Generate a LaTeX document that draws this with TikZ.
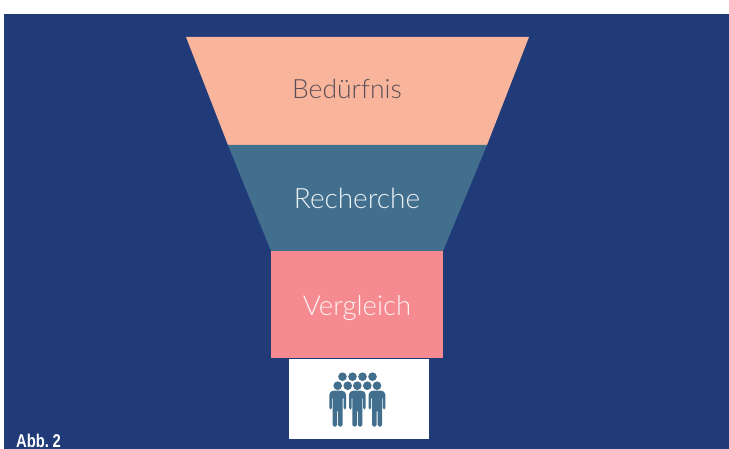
\documentclass[tikz,border=0pt]{standalone}
\usepackage{fontspec}
\setmainfont{Lato Light}[BoldFont=Lato]
\newfontfamily\abbfont[FakeStretch=0.8]{Liberation Sans Bold}
\usepackage{tikz}
\definecolor{navybg}{HTML}{203B78}
\definecolor{peach}{HTML}{F8B59C}
\definecolor{tealblue}{HTML}{426F8E}
\definecolor{rosered}{HTML}{F58A91}
\definecolor{darktext}{HTML}{5A5058}
\tikzset{
    dot/.style={fill=tealblue, circle, inner sep=0pt, minimum size=8.6pt},
    stage/.style={inner sep=0pt},
}

\begin{document}
\begin{tikzpicture}[x=1pt, y=-1pt]
        \useasboundingbox (0,0) rectangle (729,449);
        \clip (0,0) rectangle (729,449);
        \fill [navybg] (4,14) rectangle (729,449);
        % funnel
        \fill [peach] (186,37) -- (529,37) -- (487,145) -- (228,145) -- cycle;
        \fill [tealblue] (228,145) -- (487,145) -- (443,251) -- (271,251) -- cycle;
        \fill [rosered] (271,251) rectangle (443,358);
        \fill [white] (289,359) rectangle (429,439);
        \node [stage, text=darktext, font=\fontsize{26.5}{26.5}\selectfont] (need) at (347,89) {Bedürfnis};
        \node [stage, text=white!90!tealblue, font=\fontsize{28}{28}\selectfont] (research) at (357,198) {Recherche};
        \node [stage, text=white!90!rosered, font=\fontsize{27.5}{27.5}\selectfont] (compare) at (357,308) {Vergleich};
        % people
        \foreach \x in {342.5,352.5,362.5,372.5} {
          \node [dot] at (\x,376.7) {};
        }
        \foreach \x in {337.7,347.7,357.3,367.3,377} {
          \node [dot] at (\x,385.7) {};
        }
        \foreach \x in {337.7,357.3,377} {
          \begin{scope}[xshift=\x pt]
            \fill [tealblue, rounded corners=1.5pt] (-8.3,409.5) -- (-8.3,393) -- (-5.5,390.7) -- (5.5,390.7) -- (8.3,393) -- (8.3,409.5) -- (5.8,409.5) -- (5.8,397) -- (5,397) -- (5,426.5) -- (0.5,426.5) -- (0.5,410) -- (-0.5,410) -- (-0.5,426.5) -- (-5,426.5) -- (-5,397) -- (-5.8,397) -- (-5.8,409.5) -- cycle;
          \end{scope}
        }
        \node [anchor=base west, inner sep=0pt, text=white, font=\abbfont\fontsize{18.5}{18.5}\selectfont] (abb) at (16,447.5) {Abb.\kern3.5pt\relax 2};
      \end{tikzpicture}
\end{document}
